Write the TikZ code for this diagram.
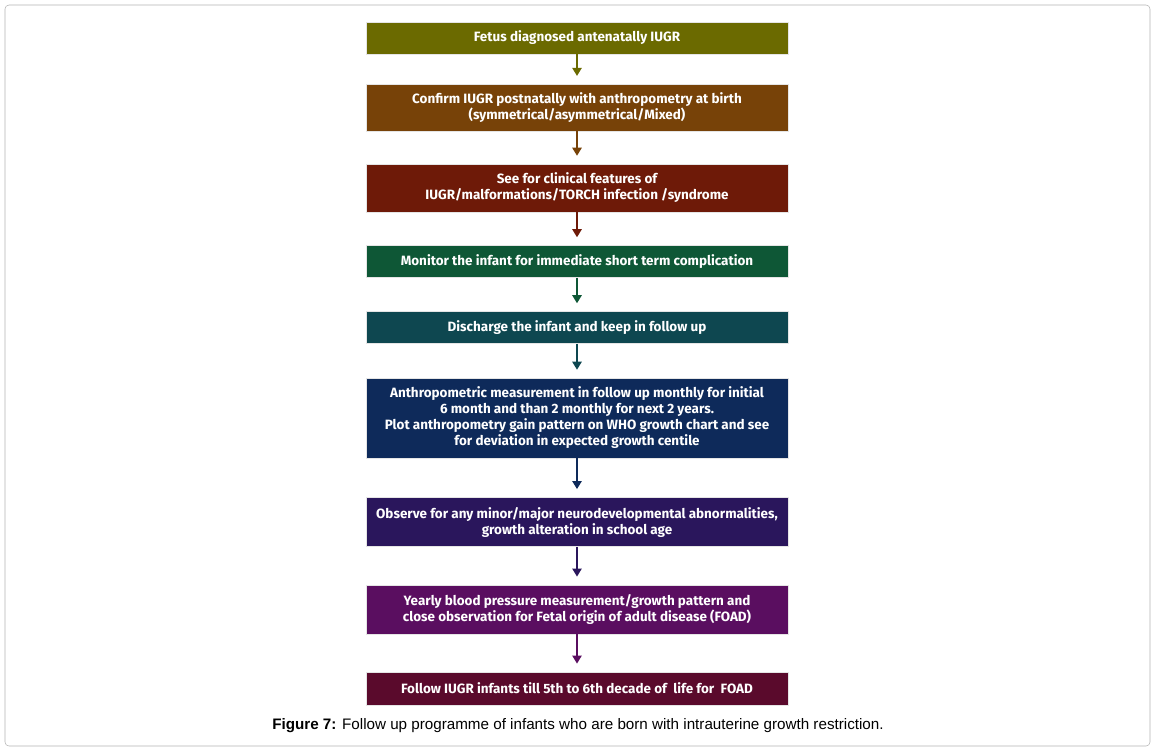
\documentclass[tikz,border=0pt]{standalone}
\usepackage{fontspec}
\setmainfont{Fira Sans}
\newfontfamily\capfont{Liberation Sans}
\usetikzlibrary{arrows.meta}
\definecolor{cA}{HTML}{6B6A00}
\definecolor{cB}{HTML}{774208}
\definecolor{cC}{HTML}{6E1A08}
\definecolor{cD}{HTML}{0E5736}
\definecolor{cE}{HTML}{0E4750}
\definecolor{cF}{HTML}{0E2A5A}
\definecolor{cG}{HTML}{2A165C}
\definecolor{cH}{HTML}{5A0E60}
\definecolor{cI}{HTML}{5A0A2C}
\tikzset{
  stepbox/.style={draw=white!80!gray, thin, text=white, align=center,
    minimum width=316.5pt, inner sep=2pt, font=\bfseries\fontsize{10.1}{12}\selectfont},
  link/.style={-{Triangle[width=7pt,length=6pt]}, line width=1.1pt}
}
\begin{document}
\begin{tikzpicture}[x=0.75pt,y=-0.75pt]
  \useasboundingbox (0,0) rectangle (1156,751);
  \draw[gray!60, rounded corners=3pt] (5,5) rectangle (1150,746);
  % boxes
  \node[stepbox, fill=cA, minimum height=24pt] (fetus) at (577,38) {Fetus diagnosed antenatally IUGR};
  \node[stepbox, fill=cB, minimum height=35pt] (confirm) at (577,107.5) {Confirm IUGR postnatally with anthropometry at birth\\(symmetrical/asymmetrical/Mixed)};
  \node[stepbox, fill=cC, minimum height=36pt] (clinic) at (577,188) {See for clinical features of\\IUGR/malformations/TORCH infection /syndrome};
  \node[stepbox, fill=cD, minimum height=24pt] (monitor) at (577,261.5) {Monitor the infant for immediate short term complication};
  \node[stepbox, fill=cE, minimum height=24pt] (discharge) at (577,327.5) {Discharge the infant and keep in follow up};
  \node[stepbox, fill=cF, minimum height=60pt] (measure) at (577,418) {Anthropometric measurement in follow up monthly for initial\\6 month and than 2 monthly for next 2 years.\\Plot anthropometry gain pattern on WHO growth chart and see\\for deviation in expected growth centile};
  \node[stepbox, fill=cG, minimum height=37pt] (observe) at (577,522) {Observe for any minor/major neurodevelopmental abnormalities,\\growth alteration in school age};
  \node[stepbox, fill=cH, minimum height=37pt] (yearly) at (577,609.5) {Yearly blood pressure measurement/growth pattern and\\close observation for Fetal origin of adult disease (FOAD)};
  \node[stepbox, fill=cI, minimum height=25pt] (till) at (577,688.5) {Follow IUGR infants till 5th to 6th decade of\ \ life for\ \ FOAD};
  % arrows
  \draw[link, cA] (fetus) -- ([yshift=6pt]confirm.north);
  \draw[link, cB] (confirm) -- ([yshift=6pt]clinic.north);
  \draw[link, cC] (clinic) -- ([yshift=6pt]monitor.north);
  \draw[link, cD] (monitor) -- ([yshift=6pt]discharge.north);
  \draw[link, cE] (discharge) -- ([yshift=6pt]measure.north);
  \draw[link, cF] (measure) -- ([yshift=6pt]observe.north);
  \draw[link, cG] (observe) -- ([yshift=6pt]yearly.north);
  \draw[link, cH] (yearly) -- ([yshift=6pt]till.north);
  \node[font=\capfont\fontsize{11.4}{13}\selectfont] (caption) at (578,726) {\textbf{Figure 7:} Follow up programme of infants who are born with intrauterine growth restriction.};
\end{tikzpicture}
\end{document}
